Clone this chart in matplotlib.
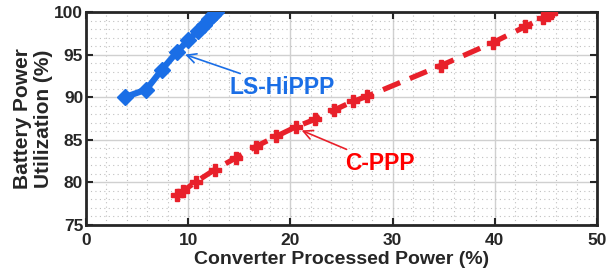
import matplotlib.pyplot as plt
from matplotlib.ticker import MultipleLocator

plt.rcParams['font.family'] = ['Liberation Sans', 'DejaVu Sans']
plt.rcParams['font.weight'] = 'bold'

# LS-HiPPP
ls_x = [3.8, 5.9, 7.4, 8.9, 10.0, 11.0, 11.5, 12.0, 12.4, 12.7]
ls_y = [90.0, 90.9, 93.2, 95.3, 96.7, 97.8, 98.5, 99.2, 99.7, 100.0]

# C-PPP
c_x = [8.9, 9.5, 10.8, 12.6, 14.7, 16.6, 18.6, 20.5, 22.4, 24.3, 26.1, 27.5,
       34.7, 39.8, 43.0, 44.7, 45.2, 45.5]
c_y = [78.5, 79.0, 80.1, 81.5, 82.9, 84.2, 85.4, 86.5, 87.4, 88.5, 89.5, 90.1,
       93.7, 96.4, 98.3, 99.3, 99.6, 99.9]

blue = '#1a6ee6'
red = '#e8202a'
dark = '#262626'

fig = plt.figure(figsize=(6.07, 2.77), dpi=100)
ax = fig.add_axes([0.1417, 0.1877, 0.8418, 0.769])

ax.plot(ls_x, ls_y, '-', color=blue, lw=4.5, marker='D', ms=8.5, zorder=3)
ax.plot(c_x, c_y, '--', color=red, lw=3.8, marker='P', ms=9, dashes=(3.5, 2), zorder=3)

ax.set_xlim(0, 50)
ax.set_ylim(75, 100)
ax.xaxis.set_major_locator(MultipleLocator(10))
ax.xaxis.set_minor_locator(MultipleLocator(2))
ax.yaxis.set_major_locator(MultipleLocator(5))
ax.yaxis.set_minor_locator(MultipleLocator(1))
ax.grid(which='major', color='#d0d0d0', lw=1)
ax.grid(which='minor', color='#c0c0c0', lw=0.8, ls=(0, (1, 3)))
ax.set_axisbelow(True)

ax.tick_params(which='major', direction='in', length=5, width=1.5, top=True, right=True,
               labelsize=12.5, colors=dark, pad=2)
ax.tick_params(axis='x', which='major', pad=6)
ax.tick_params(which='minor', length=0)
for s in ax.spines.values():
    s.set_linewidth(2)
    s.set_color(dark)
for lab in ax.get_xticklabels() + ax.get_yticklabels():
    lab.set_fontweight('bold')

ax.set_xlabel('Converter Processed Power (%)', fontsize=14, fontweight='bold', color=dark, labelpad=2)
ax.set_ylabel('Battery Power\nUtilization (%)', fontsize=15, fontweight='bold', color=dark,
              labelpad=1, linespacing=1.15)

ax.annotate('LS-HiPPP', xy=(9.7, 95.0), xytext=(14.0, 91.1), color=blue, fontsize=16.5,
            fontweight='bold', ha='left', va='center',
            arrowprops=dict(arrowstyle='->', color=blue, lw=1.2, shrinkA=0, shrinkB=0))
ax.annotate('C-PPP', xy=(21.1, 86.1), xytext=(25.4, 82.2), color='#ff0000', fontsize=16.5,
            fontweight='bold', ha='left', va='center',
            arrowprops=dict(arrowstyle='->', color=red, lw=1.2, shrinkA=0, shrinkB=0))

fig.savefig('out.png', dpi=100)
